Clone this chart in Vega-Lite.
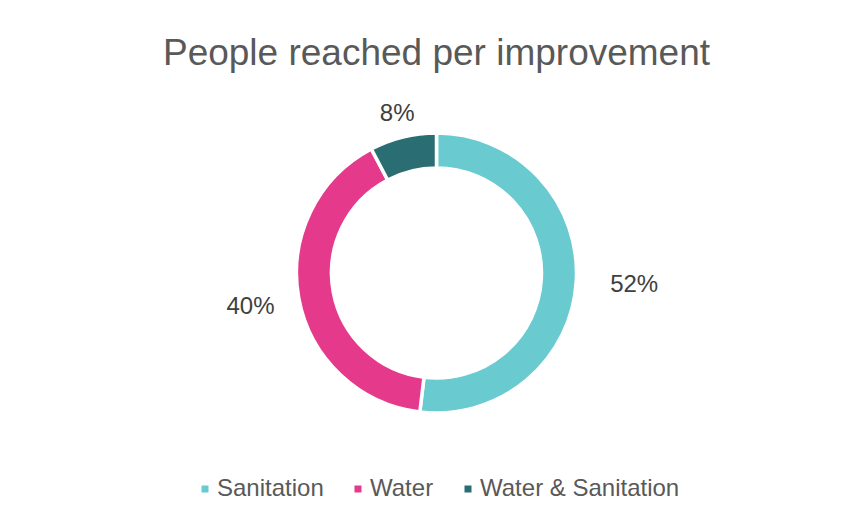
{
  "$schema": "https://vega.github.io/schema/vega-lite/v6.json",
  "width": 863,
  "height": 524,
  "autosize": {"type": "none"},
  "padding": {"left": 5, "top": 11, "right": 0, "bottom": 0},
  "background": "white",
  "config": {
    "view": {"stroke": "#D9D9D9", "strokeWidth": 1},
    "font": "Liberation Sans"
  },
  "title": {
    "text": "People reached per improvement",
    "fontSize": 37,
    "font": "Liberation Sans",
    "fontWeight": "normal",
    "color": "#595959",
    "anchor": "middle",
    "frame": "group",
    "baseline": "alphabetic",
    "offset": -91
  },
  "data": {
    "values": [
      {"category": "Sanitation", "share": 0.519},
      {"category": "Water", "share": 0.404},
      {"category": "Water & Sanitation", "share": 0.077}
    ]
  },
  "encoding": {
    "theta": {"field": "share", "type": "quantitative", "stack": true},
    "order": {"field": "category", "type": "nominal", "sort": "ascending"}
  },
  "layer": [
    {
      "mark": {"type": "arc", "outerRadius": 140, "innerRadius": 105, "stroke": "white", "strokeWidth": 3.5},
      "encoding": {
        "color": {
          "field": "category",
          "type": "nominal",
          "scale": {
            "domain": ["Sanitation", "Water", "Water & Sanitation"],
            "range": ["#69CAD0", "#E5398B", "#2A6D73"]
          },
          "legend": {
            "orient": "none",
            "legendX": 188,
            "legendY": 466,
            "direction": "horizontal",
            "title": null,
            "symbolType": "square",
            "symbolSize": 49,
            "symbolStrokeWidth": 0,
            "labelFontSize": 24,
            "labelFont": "Liberation Sans",
            "labelColor": "#595959",
            "labelOffset": 0,
            "labelLimit": 400,
            "columnPadding": 22,
            "padding": 0
          }
        }
      }
    },
    {
      "mark": {"type": "text", "fontSize": 24, "font": "Liberation Sans", "color": "#404040"},
      "encoding": {
        "detail": {"field": "category", "type": "nominal"},
        "radius": {
          "field": "share",
          "type": "quantitative",
          "scale": {"type": "linear", "zero": false, "domain": [0.077, 0.519], "range": [164, 198]}
        },
        "text": {"field": "share", "type": "quantitative", "format": ".0%"}
      }
    }
  ]
}
